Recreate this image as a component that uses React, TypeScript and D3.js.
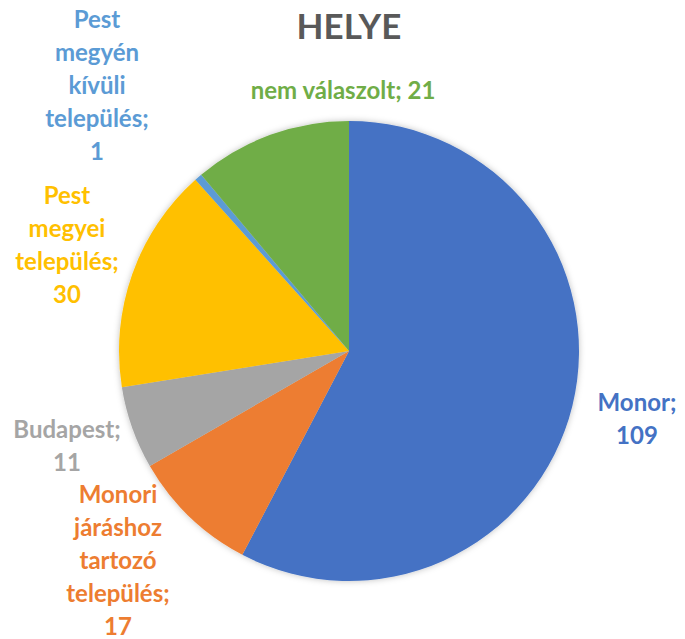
import React from "react";
import * as d3 from "d3";

const categories = [
  "Monor",
  "Monori járáshoz tartozó település",
  "Budapest",
  "Pest megyei település",
  "Pest megyén kívüli település",
  "nem válaszolt",
];
const values = [109, 17, 11, 30, 1, 21];
const colors = ["#4472C4", "#ED7D31", "#A5A5A5", "#FFC000", "#5B9BD5", "#70AD47"];
const labelLines = [
  ["Monor;", "109"],
  ["Monori", "járáshoz", "tartozó", "település;", "17"],
  ["Budapest;", "11"],
  ["Pest", "megyei", "település;", "30"],
  ["Pest", "megyén", "kívüli", "település;", "1"],
  ["nem válaszolt; 21"],
];
const title = "HELYE";

// label layout (center x, first line center y)
const labelPos: [number, number][] = [
  [637, 403],
  [118, 495],
  [67, 430],
  [67, 196],
  [97, 20],
  [343, 91],
];

export default function App() {
  const W = 685, H = 639;
  const cx = 349, cy = 351, r = 230;
  const pie = d3.pie<number>().sort(null).value((d) => d);
  const arcs = pie(values);
  const arc = d3.arc<d3.PieArcDatum<number>>().innerRadius(0).outerRadius(r);
  const font = "Lato, 'Open Sans', sans-serif";
  const lh = 33;
  return (
    <svg width={W} height={H} style={{ position: "absolute", left: 0, top: 0 }}>
      <defs>
        <filter id="sh" x="-20%" y="-20%" width="140%" height="140%">
          <feDropShadow dx="0" dy="0" stdDeviation="3" floodColor="#000" floodOpacity="0.25" />
        </filter>
      </defs>
      <rect width={W} height={H} fill="#fff" />
      <text x={349} y={39} textAnchor="middle" fontFamily={font} fontWeight="bold" fontSize={35} fill="#595959">
        {title}
      </text>
      <g transform={`translate(${cx},${cy})`} filter="url(#sh)">
        {arcs.map((a, i) => (
          <path key={categories[i]} d={arc(a) || ""} fill={colors[i]} />
        ))}
      </g>
      {labelLines.map((lines, i) => (
        <text
          key={"l" + i}
          textAnchor="middle"
          fontFamily={font}
          fontWeight="bold"
          fontSize={24}
          fill={colors[i]}
        >
          {lines.map((ln, j) => (
            <tspan key={j} x={labelPos[i][0]} y={labelPos[i][1] + j * lh} dy="0.35em">
              {ln}
            </tspan>
          ))}
        </text>
      ))}
    </svg>
  );
}
